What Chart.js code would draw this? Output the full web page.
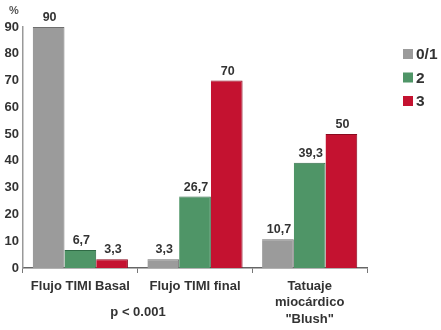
<!DOCTYPE html>
<html>
<head>
<meta charset="utf-8">
<script src="https://cdn.jsdelivr.net/npm/chart.js@4/dist/chart.umd.min.js"></script>
<style>
html,body{margin:0;padding:0;background:#fff;}
#wrap{position:relative;width:441px;height:330px;}
</style>
</head>
<body>
<div id="wrap"><canvas id="c" width="441" height="330"></canvas></div>
<script>
const categories = [["Flujo TIMI Basal"], ["Flujo TIMI final"], ["Tatuaje", "miocárdico", "\"Blush\""]];
const seriesNames = ["0/1", "2", "3"];
const values01 = [90, 3.3, 10.7];
const values2 = [6.7, 26.7, 39.3];
const values3 = [3.3, 70, 50];
const yTicks = [0, 10, 20, 30, 40, 50, 60, 70, 80, 90];
const footnote = "p < 0.001";
const unitLabel = "%";

const colors = ["#9b9b9b", "#4f9567", "#c41230"];
const borders = ["#6f6f6f", "#2f6a45", "#8a0a1f"];
const FONT = "'Liberation Sans', Arial, sans-serif";

const fmt = v => String(v).replace('.', ',');

const labelsPlugin = {
  id: 'valueLabels',
  afterDatasetsDraw(chart) {
    const ctx = chart.ctx;
    ctx.save();
    ctx.font = "bold 12.5px " + FONT;
    ctx.fillStyle = "#333";
    ctx.textAlign = "center";
    ctx.textBaseline = "alphabetic";
    chart.data.datasets.forEach((ds, i) => {
      chart.getDatasetMeta(i).data.forEach((bar, j) => {
        ctx.fillText(fmt(ds.data[j]), bar.x + 1, bar.y - 6);
      });
    });
    // unit label
    ctx.font = "bold 11px " + FONT;
    ctx.fillStyle = "#555";
    ctx.fillText(unitLabel, 14, 14);
    // footnote
    ctx.font = "bold 13px " + FONT;
    ctx.fillStyle = "#333";
    ctx.fillText(footnote, 138, 316);
    // legend
    ctx.textAlign = "left";
    ctx.textBaseline = "middle";
    ctx.font = "bold 15.5px " + FONT;
    seriesNames.forEach((n, i) => {
      const y = 54 + i * 23.5;
      ctx.fillStyle = colors[i];
      ctx.fillRect(403, y - 5, 10, 10);
      ctx.fillStyle = "#333";
      ctx.fillText(n, 416, y + 1);
    });
    ctx.restore();
  }
};

new Chart(document.getElementById('c'), {
  type: 'bar',
  data: {
    labels: categories,
    datasets: [
      { label: seriesNames[0], data: values01, backgroundColor: colors[0], borderColor: borders[0], borderWidth: {right: 1, top: 1} },
      { label: seriesNames[1], data: values2, backgroundColor: colors[1], borderColor: borders[1], borderWidth: {right: 1, top: 1} },
      { label: seriesNames[2], data: values3, backgroundColor: colors[2], borderColor: borders[2], borderWidth: {right: 1, top: 1} }
    ]
  },
  options: {
    responsive: false,
    animation: false,
    devicePixelRatio: 1,
    categoryPercentage: 0.83,
    barPercentage: 1.0,
    layout: { padding: { top: 27, right: 74, left: 0, bottom: 0 } },
    plugins: { legend: { display: false }, tooltip: { enabled: false } },
    scales: {
      x: {
        afterFit(s) { s.height = 62; },
        grid: { display: true, drawOnChartArea: false, offset: true, tickLength: 5, color: "#777", lineWidth: 1 },
        border: { display: true, color: "#666", width: 1.5 },
        ticks: { color: "#333", font: { family: FONT, size: 13, weight: 'bold', lineHeight: 1.27 }, padding: 5, maxRotation: 0, autoSkip: false }
      },
      y: {
        min: 0, max: 90,
        afterFit(s) { s.width = 23; },
        afterBuildTicks(s) { s.ticks = yTicks.map(v => ({ value: v })); },
        grid: { display: false, tickLength: 0 },
        border: { display: true, color: "#999", width: 1.5 },
        ticks: { color: "#333", font: { family: FONT, size: 13, weight: 'bold' }, padding: 4 }
      }
    }
  },
  plugins: [labelsPlugin]
});
</script>
</body>
</html>
